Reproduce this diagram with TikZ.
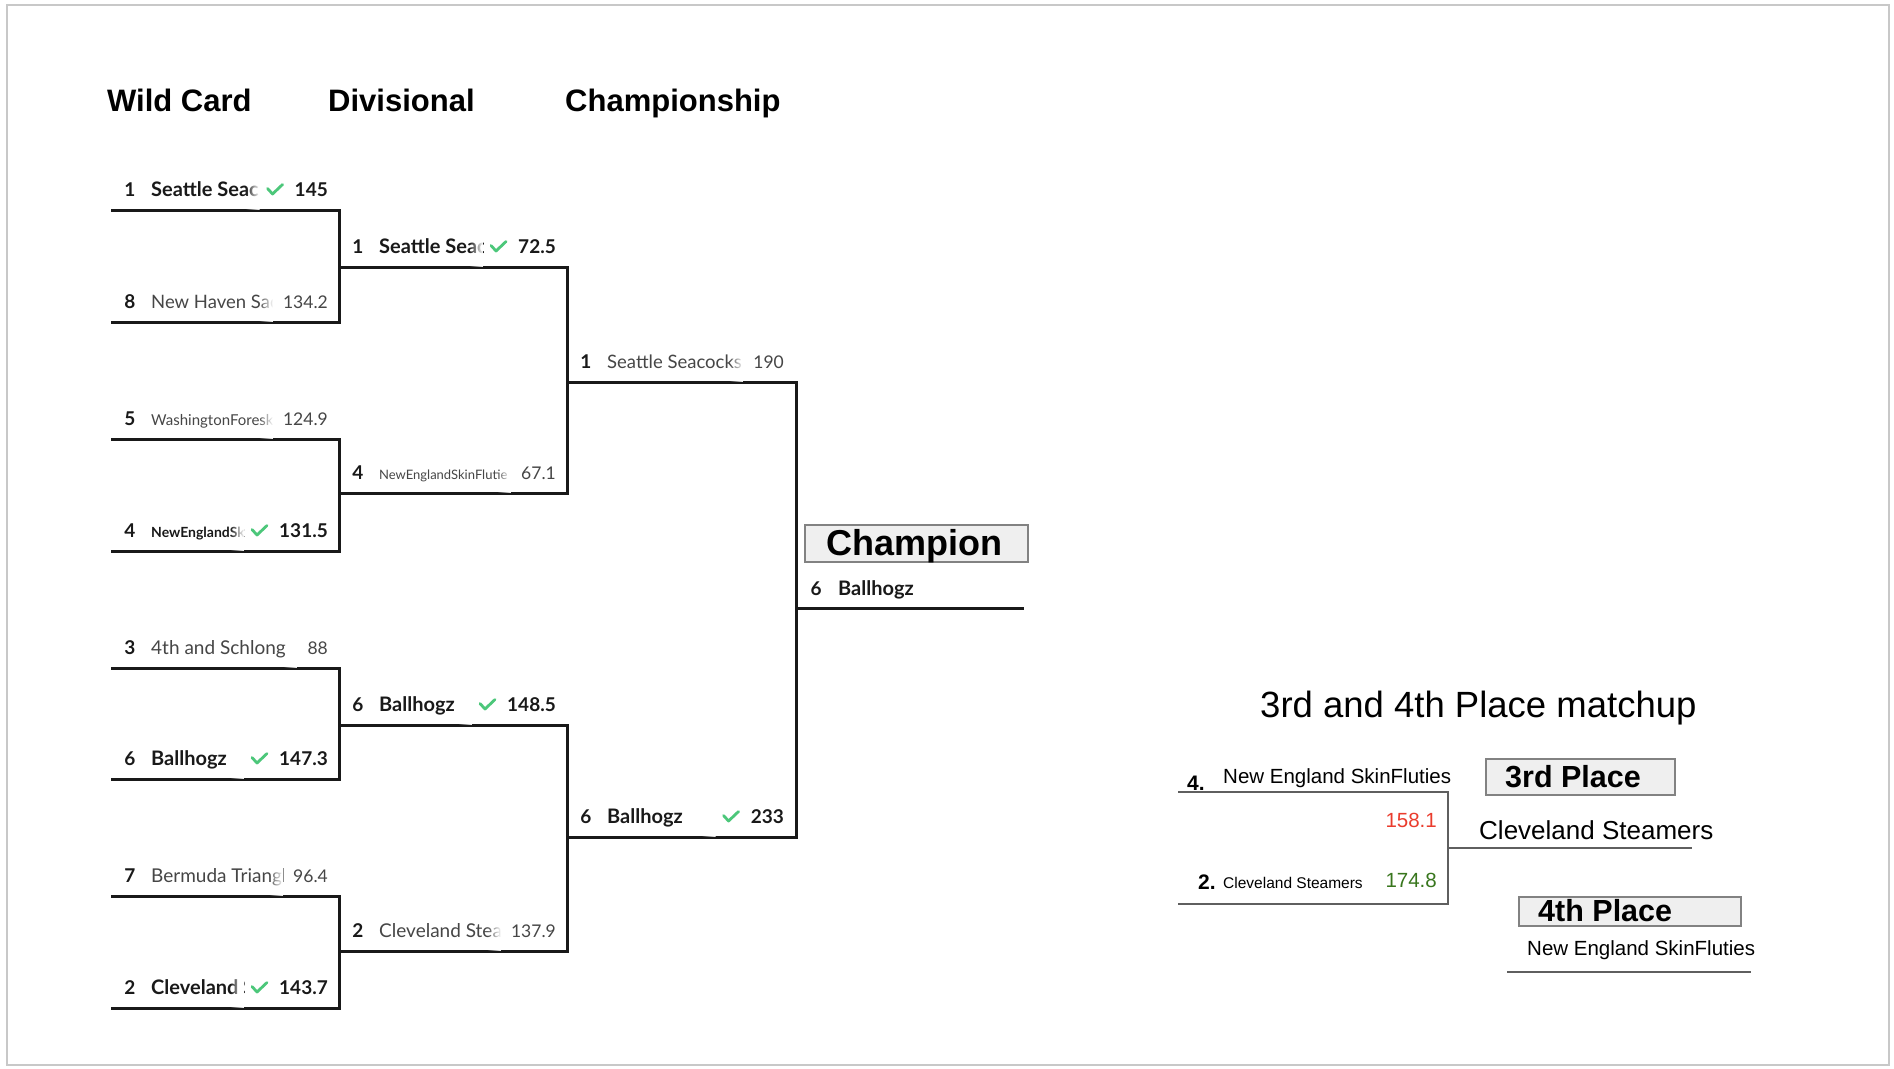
\documentclass[tikz,border=0pt]{standalone}
\usepackage{fontspec}
\setmainfont{Liberation Sans}
\newfontfamily\brf{Lato}
\usetikzlibrary{calc,fadings}
\definecolor{chk}{RGB}{76,199,122}
\definecolor{frm}{RGB}{200,200,200}
\definecolor{lose}{RGB}{70,70,70}
\definecolor{win}{RGB}{25,25,25}
\definecolor{redsc}{RGB}{234,60,45}
\definecolor{grnsc}{RGB}{56,118,29}
\definecolor{boxf}{RGB}{239,239,239}
\definecolor{boxd}{RGB}{130,130,130}
\definecolor{thl}{RGB}{95,95,95}
\tikzfading[name=fadeR, left color=transparent!100, right color=transparent!0]
\newcommand\fs[1]{\fontsize{#1}{#1}\selectfont}
\tikzset{
  brk/.style={line width=3pt, draw=win, line join=miter},
  thin3/.style={line width=2pt, draw=thl},
  seedn/.style={anchor=base, inner sep=0pt, font=\brf\bfseries\fs{19}, text=win},
  wname/.style={anchor=base west, inner sep=0pt, font=\brf\bfseries\fs{20}, text=win},
  lname/.style={anchor=base west, inner sep=0pt, font=\brf\fs{19}, text=lose},
  wscore/.style={anchor=base east, inner sep=0pt, font=\brf\bfseries\fs{19}, text=win},
  lscore/.style={anchor=base east, inner sep=0pt, font=\brf\fs{17.5}, text=lose},
  chkst/.style={draw=chk, line width=2.8pt, line cap=round, line join=round},
  title/.style={anchor=base west, inner sep=0pt, font=\bfseries\fs{31}},
  plain/.style={anchor=base west, inner sep=0pt},
  placebox/.style={draw=boxd, fill=boxf, line width=2pt, inner sep=0pt, anchor=north west},
}
% loser slot: #1 id, #2 line-left x, #3 line y, #4 seed, #5 name, #6 score, #7 name font
\newcommand\lslot[7]{%
  \coordinate (#1L) at (#2,#3);
  \coordinate (#1T) at (#2+40,#3-40);
  \node[seedn] (#1s) at (#2+19,#3-14) {#4};
  \node[lscore] (#1p) at (#2+217,#3-14) {#6};
  \coordinate (#1e) at ($(#1p.west)+(-10,0)$);
  \begin{scope}
    \clip (#1T) rectangle (#1e |- #1L);
    \node[lname, font=#7] (#1n) at (#2+40,#3-14) {#5};
    \fill[white, path fading=fadeR] ($(#1e |- #1T)+(-14,0)$) rectangle (#1e |- #1L);
  \end{scope}}
% winner slot with check mark
\newcommand\wslot[7]{%
  \coordinate (#1L) at (#2,#3);
  \coordinate (#1T) at (#2+40,#3-40);
  \node[seedn] (#1s) at (#2+19,#3-14) {#4};
  \node[wscore] (#1p) at (#2+217,#3-14) {#6};
  \coordinate (#1k) at (#1p.base west);
  \draw[chkst] ($(#1k)+(-27,-7.5)$) -- ($(#1k)+(-22,-2)$) -- ($(#1k)+(-12,-11.5)$);
  \coordinate (#1e) at ($(#1p.west)+(-35,0)$);
  \begin{scope}
    \clip (#1T) rectangle (#1e |- #1L);
    \node[wname, font=#7] (#1n) at (#2+40,#3-14) {#5};
    \fill[white, path fading=fadeR] ($(#1e |- #1T)+(-14,0)$) rectangle (#1e |- #1L);
  \end{scope}}
\begin{document}
\begin{tikzpicture}[x=1pt,y=-1pt]
\useasboundingbox (0,0) rectangle (1894,1068);
\fill[white] (0,0) rectangle (1894,1068);
\draw[frm, line width=2pt] (7,5) rectangle (1889,1065);

% titles
\node[title] (t1) at (107,111) {Wild Card};
\node[title] (t2) at (328,111) {Divisional};
\node[title] (t3) at (565,111) {Championship};

% coordinates
\coordinate (a1) at (111,210);
\coordinate (a2) at (111,322);
\coordinate (a3) at (111,439);
\coordinate (a4) at (111,551);
\coordinate (a5) at (111,668);
\coordinate (a6) at (111,779);
\coordinate (a7) at (111,896);
\coordinate (a8) at (111,1008);
\coordinate (b1) at (339,267);
\coordinate (b2) at (339,493);
\coordinate (b3) at (339,725);
\coordinate (b4) at (339,951);
\coordinate (c1) at (567,382);
\coordinate (c2) at (567,837);
\coordinate (d1) at (796,608);
\coordinate (d2) at (1024,608);

% bracket lines
\draw[brk] (a1) -- (a1 -| b1) -- (a2 -| b1) -- (a2);
\draw[brk] (a3) -- (a3 -| b2) -- (a4 -| b2) -- (a4);
\draw[brk] (a5) -- (a5 -| b3) -- (a6 -| b3) -- (a6);
\draw[brk] (a7) -- (a7 -| b4) -- (a8 -| b4) -- (a8);
\draw[brk] (b1) -- (b1 -| c1) -- (b2 -| c1) -- (b2);
\draw[brk] (b3) -- (b3 -| c2) -- (b4 -| c2) -- (b4);
\draw[brk] (c1) -- (c1 -| d1) -- (c2 -| d1) -- (c2);
\draw[brk] (d1) -- (d2);

% round 1
\wslot{e1}{111}{210}{1}{Seattle Seac}{145}{\brf\bfseries\fs{20}}
\lslot{e2}{111}{322}{8}{New Haven Sac}{134.2}{\brf\fs{18.5}}
\lslot{e3}{111}{439}{5}{WashingtonForesk}{124.9}{\brf\fs{15}}
\wslot{e4}{111}{551}{4}{NewEnglandSk}{131.5}{\brf\bfseries\fs{14}}
\lslot{e5}{111}{668}{3}{4th and Schlong}{88}{\brf\fs{19}}
\wslot{e6}{111}{779}{6}{Ballhogz}{147.3}{\brf\bfseries\fs{20}}
\lslot{e7}{111}{896}{7}{Bermuda Triangl}{96.4}{\brf\fs{19}}
\wslot{e8}{111}{1008}{2}{Cleveland S}{143.7}{\brf\bfseries\fs{20}}
% round 2
\wslot{f1}{339}{267}{1}{Seattle Seac}{72.5}{\brf\bfseries\fs{20}}
\lslot{f2}{339}{493}{4}{NewEnglandSkinFlutie}{67.1}{\brf\fs{13}}
\wslot{f3}{339}{725}{6}{Ballhogz}{148.5}{\brf\bfseries\fs{20}}
\lslot{f4}{339}{951}{2}{Cleveland Stea}{137.9}{\brf\fs{19}}
% round 3
\lslot{g1}{567}{382}{1}{Seattle Seacocks}{190}{\brf\fs{18.5}}
\wslot{g2}{567}{837}{6}{Ballhogz}{233}{\brf\bfseries\fs{20}}
% champion
\node[placebox, minimum width=223pt, minimum height=37pt] (chb) at (804,524) {};
\node[plain, font=\bfseries\fs{36}] (cht) at (826,555) {Champion};
\node[seedn] (hs) at (816,595) {6};
\node[wname] (hn) at (838,595) {Ballhogz};

% 3rd and 4th place
\node[plain, font=\fs{36.5}] (m3) at (1260,717) {3rd and 4th Place matchup};
\coordinate (p1) at (1178,792);
\coordinate (p2) at (1178,904);
\coordinate (q1) at (1448,848);
\coordinate (q2) at (1692,848);
\draw[thin3] (p1) -- (p1 -| q1) -- (p2 -| q1) -- (p2);
\draw[thin3] (q1) -- (q2);
\node[plain, font=\bfseries\fs{21}] (k4) at (1187,790) {4.};
\node[plain, font=\fs{20.5}] (k4n) at (1223,783) {New England SkinFluties};
\node[anchor=base east, inner sep=0pt, font=\fs{20.5}, text=redsc] (k4p) at (1437,827) {158.1};
\node[plain, font=\bfseries\fs{21}] (k2) at (1198,889) {2.};
\node[plain, font=\fs{15.5}] (k2n) at (1223,888) {Cleveland Steamers};
\node[anchor=base east, inner sep=0pt, font=\fs{20.5}, text=grnsc] (k2p) at (1437,887) {174.8};

\node[placebox, minimum width=189pt, minimum height=36pt] (b3b) at (1485,758) {};
\node[plain, font=\bfseries\fs{30.5}] (b3t) at (1505,787) {3rd Place};
\node[plain, font=\fs{26}] (w3) at (1479,839) {Cleveland Steamers};

\node[placebox, minimum width=222pt, minimum height=29pt] (b4b) at (1518,896) {};
\node[plain, font=\bfseries\fs{30.5}] (b4t) at (1538,921) {4th Place};
\node[plain, font=\fs{20.5}] (w4) at (1527,955) {New England SkinFluties};
\coordinate (r1) at (1507,972);
\coordinate (r2) at (1751,972);
\draw[thin3] (r1) -- (r2);
\end{tikzpicture}
\end{document}
